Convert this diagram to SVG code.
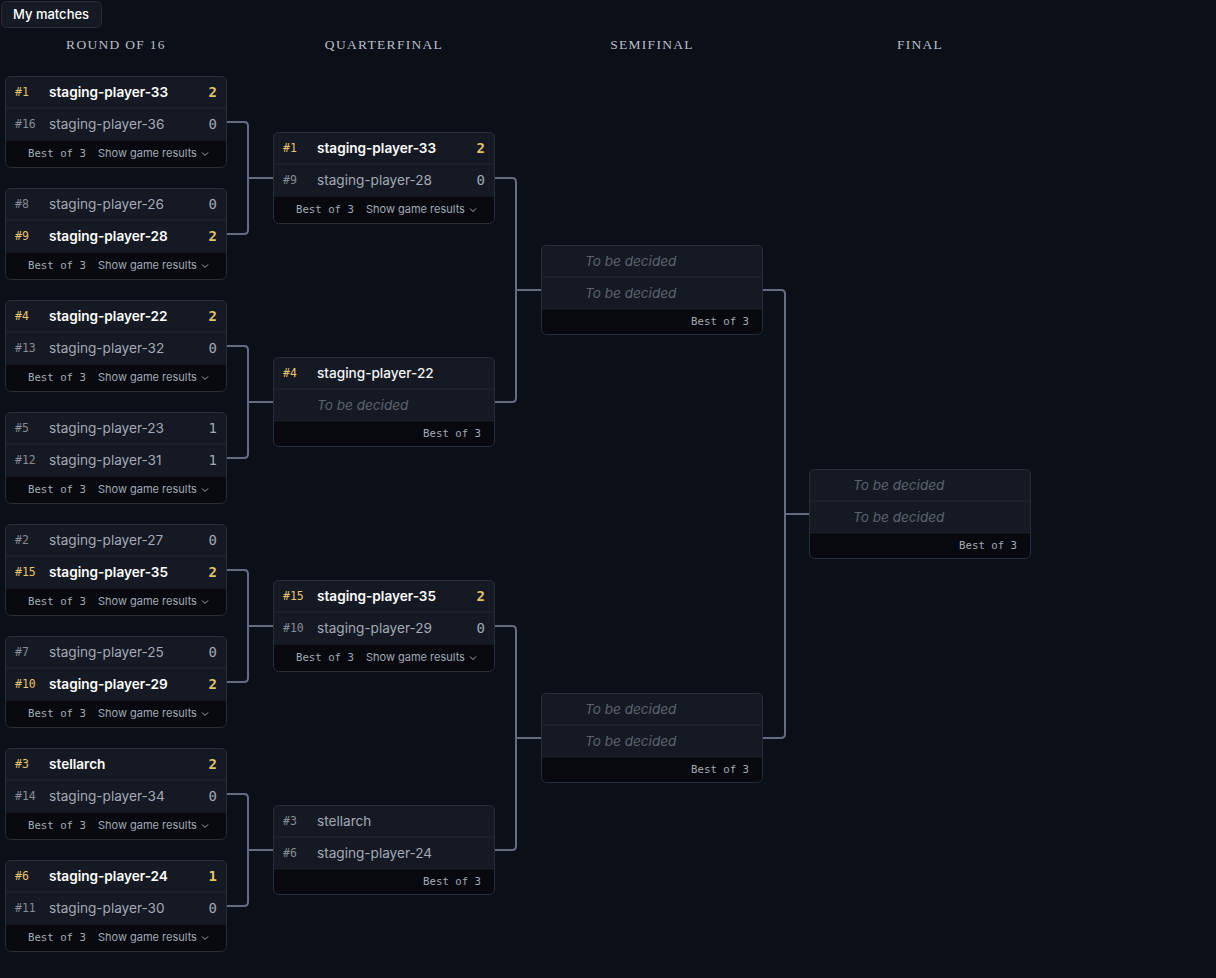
<svg xmlns="http://www.w3.org/2000/svg" xmlns:xlink="http://www.w3.org/1999/xlink" width="1216" height="978" viewBox="0 0 1216 978">
<style>
.hdr{font-family:"Liberation Serif",serif;font-size:13.5px;letter-spacing:1.3px;fill:#b9bfca;text-anchor:middle}
.seed{font-family:"DejaVu Sans Mono",monospace;font-size:11.5px;fill:#858b97}
.seedw{font-family:"DejaVu Sans Mono",monospace;font-size:11.5px;fill:#e6c46a}
.nm{font-family:Inter,"Noto Sans",sans-serif;font-size:13.6px;fill:#a3a9b5}
.nmw{font-family:Inter,"Noto Sans",sans-serif;font-size:13.6px;font-weight:600;fill:#ffffff}
.nmm{font-family:Inter,"Noto Sans",sans-serif;font-size:13.6px;font-weight:500;fill:#f2f3f5}
.sc{font-family:"DejaVu Sans Mono",monospace;font-size:14px;fill:#a3a9b5;text-anchor:end}
.scw{font-family:"DejaVu Sans Mono",monospace;font-size:14px;font-weight:bold;fill:#e6c46a;text-anchor:end}
.tbd{font-family:Inter,"Noto Sans",sans-serif;font-size:13.6px;font-style:italic;fill:#5c6370}
.bo{font-family:"DejaVu Sans Mono",monospace;font-size:10.7px;fill:#a3a9b5}
.bor{font-family:"DejaVu Sans Mono",monospace;font-size:10.7px;fill:#a3a9b5;text-anchor:end}
.sg{font-family:Inter,"Noto Sans",sans-serif;font-size:11px;fill:#a3a9b5}
.chev{fill:none;stroke:#a3a9b5;stroke-width:1}
.con{fill:none;stroke:#646b84;stroke-width:2}
.btn{font-family:Inter,"Noto Sans",sans-serif;font-size:13px;font-weight:500;fill:#ffffff}
</style>
<defs>
<g id="c92">
<rect x="0" y="0" width="222" height="92" rx="5" fill="#07090e"/>
<path d="M0,5 a5,5 0 0 1 5,-5 h212 a5,5 0 0 1 5,5 v59 h-222 z" fill="#141923"/>
<line x1="0" y1="32" x2="222" y2="32" stroke="#222834" stroke-width="1"/>
<line x1="0" y1="64" x2="222" y2="64" stroke="#1c212b" stroke-width="1"/>
<rect x="0.5" y="0.5" width="221" height="91" rx="5" fill="none" stroke="#272d39" stroke-width="1"/>
</g>
<g id="c90">
<rect x="0" y="0" width="222" height="90" rx="5" fill="#07090e"/>
<path d="M0,5 a5,5 0 0 1 5,-5 h212 a5,5 0 0 1 5,5 v59 h-222 z" fill="#141923"/>
<line x1="0" y1="32" x2="222" y2="32" stroke="#222834" stroke-width="1"/>
<line x1="0" y1="64" x2="222" y2="64" stroke="#1c212b" stroke-width="1"/>
<rect x="0.5" y="0.5" width="221" height="89" rx="5" fill="none" stroke="#272d39" stroke-width="1"/>
</g>
<g id="fres">
<text class="bo" x="23" y="81">Best of 3</text>
<text class="sg" x="93" y="81">Show game results</text>
<path class="chev" d="M197,76.5 l3,3 l3,-3"/>
</g>
</defs>
<rect x="0" y="0" width="1216" height="978" fill="#0b0f17"/>

<g id="my-matches">
<rect x="1.5" y="1.5" width="100" height="26" rx="5" fill="#141923" stroke="#272d39"/>
<text class="btn" x="13" y="19">My matches</text>
</g>

<g id="headers">
<text class="hdr" x="116" y="49">ROUND OF 16</text>
<text class="hdr" x="384" y="49">QUARTERFINAL</text>
<text class="hdr" x="652" y="49">SEMIFINAL</text>
<text class="hdr" x="920" y="49">FINAL</text>
</g>

<g id="connectors">
<path class="con" d="M227,122 H244 Q248,122 248,126 V230 Q248,234 244,234 H227 M248,178 H273"/>
<path class="con" d="M227,346 H244 Q248,346 248,350 V454 Q248,458 244,458 H227 M248,402 H273"/>
<path class="con" d="M227,570 H244 Q248,570 248,574 V678 Q248,682 244,682 H227 M248,626 H273"/>
<path class="con" d="M227,794 H244 Q248,794 248,798 V902 Q248,906 244,906 H227 M248,850 H273"/>
<path class="con" d="M495,178 H512 Q516,178 516,182 V398 Q516,402 512,402 H495 M516,290 H541"/>
<path class="con" d="M495,626 H512 Q516,626 516,630 V846 Q516,850 512,850 H495 M516,738 H541"/>
<path class="con" d="M763,290 H781 Q785,290 785,294 V734 Q785,738 781,738 H763 M785,514 H809"/>
</g>

<g id="r16-m1" transform="translate(5,76)">
<use xlink:href="#c92"/>
<text class="seedw" x="10" y="20">#1</text><text class="nmw" x="44" y="21">staging-player-33</text><text class="scw" x="212" y="21">2</text>
<text class="seed" x="10" y="52">#16</text><text class="nm" x="44" y="53">staging-player-36</text><text class="sc" x="212" y="53">0</text>
<use xlink:href="#fres"/>
</g>
<g id="r16-m2" transform="translate(5,188)">
<use xlink:href="#c92"/>
<text class="seed" x="10" y="20">#8</text><text class="nm" x="44" y="21">staging-player-26</text><text class="sc" x="212" y="21">0</text>
<text class="seedw" x="10" y="52">#9</text><text class="nmw" x="44" y="53">staging-player-28</text><text class="scw" x="212" y="53">2</text>
<use xlink:href="#fres"/>
</g>
<g id="r16-m3" transform="translate(5,300)">
<use xlink:href="#c92"/>
<text class="seedw" x="10" y="20">#4</text><text class="nmw" x="44" y="21">staging-player-22</text><text class="scw" x="212" y="21">2</text>
<text class="seed" x="10" y="52">#13</text><text class="nm" x="44" y="53">staging-player-32</text><text class="sc" x="212" y="53">0</text>
<use xlink:href="#fres"/>
</g>
<g id="r16-m4" transform="translate(5,412)">
<use xlink:href="#c92"/>
<text class="seed" x="10" y="20">#5</text><text class="nm" x="44" y="21">staging-player-23</text><text class="sc" x="212" y="21">1</text>
<text class="seed" x="10" y="52">#12</text><text class="nm" x="44" y="53">staging-player-31</text><text class="sc" x="212" y="53">1</text>
<use xlink:href="#fres"/>
</g>
<g id="r16-m5" transform="translate(5,524)">
<use xlink:href="#c92"/>
<text class="seed" x="10" y="20">#2</text><text class="nm" x="44" y="21">staging-player-27</text><text class="sc" x="212" y="21">0</text>
<text class="seedw" x="10" y="52">#15</text><text class="nmw" x="44" y="53">staging-player-35</text><text class="scw" x="212" y="53">2</text>
<use xlink:href="#fres"/>
</g>
<g id="r16-m6" transform="translate(5,636)">
<use xlink:href="#c92"/>
<text class="seed" x="10" y="20">#7</text><text class="nm" x="44" y="21">staging-player-25</text><text class="sc" x="212" y="21">0</text>
<text class="seedw" x="10" y="52">#10</text><text class="nmw" x="44" y="53">staging-player-29</text><text class="scw" x="212" y="53">2</text>
<use xlink:href="#fres"/>
</g>
<g id="r16-m7" transform="translate(5,748)">
<use xlink:href="#c92"/>
<text class="seedw" x="10" y="20">#3</text><text class="nmw" x="44" y="21">stellarch</text><text class="scw" x="212" y="21">2</text>
<text class="seed" x="10" y="52">#14</text><text class="nm" x="44" y="53">staging-player-34</text><text class="sc" x="212" y="53">0</text>
<use xlink:href="#fres"/>
</g>
<g id="r16-m8" transform="translate(5,860)">
<use xlink:href="#c92"/>
<text class="seedw" x="10" y="20">#6</text><text class="nmw" x="44" y="21">staging-player-24</text><text class="scw" x="212" y="21">1</text>
<text class="seed" x="10" y="52">#11</text><text class="nm" x="44" y="53">staging-player-30</text><text class="sc" x="212" y="53">0</text>
<use xlink:href="#fres"/>
</g>

<g id="qf-m1" transform="translate(273,132)">
<use xlink:href="#c92"/>
<text class="seedw" x="10" y="20">#1</text><text class="nmw" x="44" y="21">staging-player-33</text><text class="scw" x="212" y="21">2</text>
<text class="seed" x="10" y="52">#9</text><text class="nm" x="44" y="53">staging-player-28</text><text class="sc" x="212" y="53">0</text>
<use xlink:href="#fres"/>
</g>
<g id="qf-m2" transform="translate(273,357)">
<use xlink:href="#c90"/>
<text class="seedw" x="10" y="20">#4</text><text class="nmm" x="44" y="21">staging-player-22</text>
<text class="tbd" x="44" y="53">To be decided</text>
<text class="bor" x="208" y="80">Best of 3</text>
</g>
<g id="qf-m3" transform="translate(273,580)">
<use xlink:href="#c92"/>
<text class="seedw" x="10" y="20">#15</text><text class="nmw" x="44" y="21">staging-player-35</text><text class="scw" x="212" y="21">2</text>
<text class="seed" x="10" y="52">#10</text><text class="nm" x="44" y="53">staging-player-29</text><text class="sc" x="212" y="53">0</text>
<use xlink:href="#fres"/>
</g>
<g id="qf-m4" transform="translate(273,805)">
<use xlink:href="#c90"/>
<text class="seed" x="10" y="20">#3</text><text class="nm" x="44" y="21">stellarch</text>
<text class="seed" x="10" y="52">#6</text><text class="nm" x="44" y="53">staging-player-24</text>
<text class="bor" x="208" y="80">Best of 3</text>
</g>

<g id="sf-m1" transform="translate(541,245)">
<use xlink:href="#c90"/>
<text class="tbd" x="44" y="21">To be decided</text>
<text class="tbd" x="44" y="53">To be decided</text>
<text class="bor" x="208" y="80">Best of 3</text>
</g>
<g id="sf-m2" transform="translate(541,693)">
<use xlink:href="#c90"/>
<text class="tbd" x="44" y="21">To be decided</text>
<text class="tbd" x="44" y="53">To be decided</text>
<text class="bor" x="208" y="80">Best of 3</text>
</g>
<g id="final-m1" transform="translate(809,469)">
<use xlink:href="#c90"/>
<text class="tbd" x="44" y="21">To be decided</text>
<text class="tbd" x="44" y="53">To be decided</text>
<text class="bor" x="208" y="80">Best of 3</text>
</g>
</svg>
